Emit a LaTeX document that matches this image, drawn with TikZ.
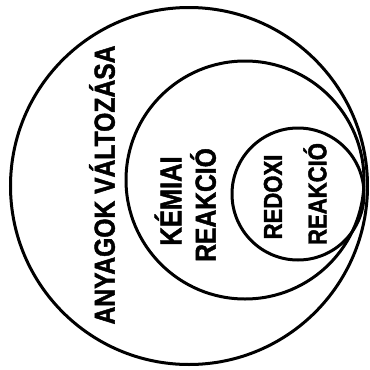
\documentclass[tikz,border=0pt]{standalone}
\usepackage{fontspec}
\newfontfamily\handfont[FakeStretch=0.85,FakeBold=1.5]{Liberation Sans Bold}
\usetikzlibrary{positioning}
\tikzset{
	ring/.style={draw, circle, line width=3pt, inner sep=0pt},
	lettering/.style={rotate=90, inner sep=0pt, font=\handfont\fontsize{#1}{#1}\selectfont}
}

\begin{document}
\begin{tikzpicture}[x=1pt,y=-1pt]
			\useasboundingbox (0,0) rectangle (370,370);
			% Draw the three circles
			\node[ring, minimum size=357pt] (anyag) at (189,186) {};
			\node[ring, minimum size=238pt] (kemia) at (245,180) {};
			\node[ring, minimum size=132pt] (redox) at (298,194) {};
			% Labels, read from bottom to top
			\node[lettering=29] (anyagtxt) at (102,185) {ANYAGOK VÁLTOZÁSA};
			\node[lettering=30] (kemiatxt) at (168,201) {KÉMIAI};
			\node[lettering=29] (kemiarx) at (203,205) {REAKCIÓ};
			\node[lettering=26] (redoxtxt) at (273,197) {REDOXI};
			\node[lettering=26] (redoxrx) at (315,194) {REAKCIÓ};
		\end{tikzpicture}
\end{document}
